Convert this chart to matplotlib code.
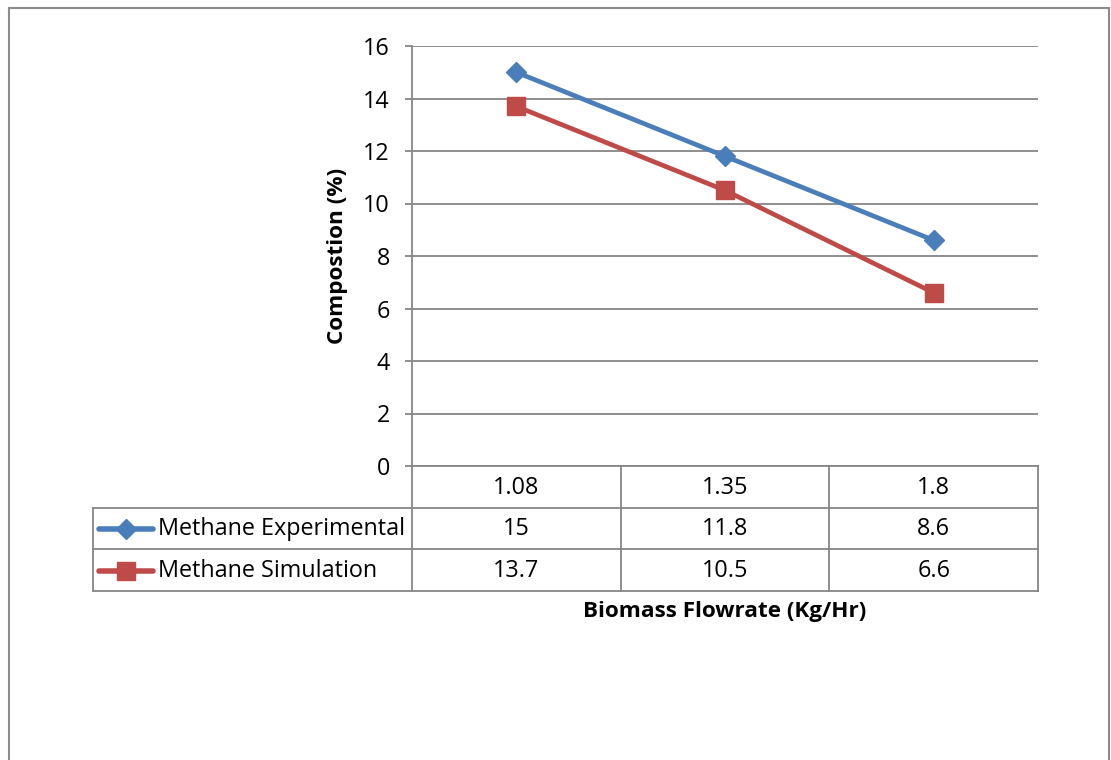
import matplotlib.pyplot as plt
from matplotlib.lines import Line2D

plt.rcParams['font.family'] = ['Open Sans', 'DejaVu Sans']

# data
flowrate = ['1.08', '1.35', '1.8']
experimental = [15, 11.8, 8.6]
simulation = [13.7, 10.5, 6.6]
series_names = ['Methane Experimental', 'Methane Simulation']
yticks = [0, 2, 4, 6, 8, 10, 12, 14, 16]

blue = '#4A7EBB'
red = '#BE4B48'
gridc = '#868686'
fs = 16.8
fsb = 16.2

fig = plt.figure(figsize=(11.11, 7.60), dpi=100)
ax = fig.add_axes([412/1111, 1 - 466/760, 626/1111, 420/760])

x = list(range(len(flowrate)))
ax.plot(x, experimental, color=blue, lw=3.4, marker='D', ms=10,
        mec=blue, mfc=blue, zorder=3)
ax.plot(x, simulation, color=red, lw=3.4, marker='s', ms=13,
        mec=red, mfc=red, zorder=3)

ax.set_xlim(-0.5, 2.5)
ax.set_ylim(0, 16)
ax.set_yticks(yticks)
ax.set_xticks([])
ax.yaxis.grid(True, color=gridc, lw=1.3)
ax.set_axisbelow(True)
for s in ['top', 'right']:
    ax.spines[s].set_visible(False)
ax.spines['left'].set_color(gridc)
ax.spines['left'].set_linewidth(1.3)
ax.spines['bottom'].set_color(gridc)
ax.spines['bottom'].set_linewidth(1.3)
ax.tick_params(axis='y', direction='out', length=5, width=1.3, color=gridc,
               pad=11, labelsize=fs)

ax.set_ylabel('Compostion (%)', fontsize=fsb, fontweight='bold', labelpad=11)

# data table under the axis
rh = 1.59          # row height in data units
xl = -2.03         # left edge of legend column
gl = dict(color=gridc, lw=1.3, clip_on=False)
for k in range(1, 4):
    ax.plot([xl, 2.5], [-k*rh, -k*rh], **gl)
ax.plot([xl, xl], [-rh, -3*rh], **gl)
for xv in [-0.5, 0.5, 1.5, 2.5]:
    ax.plot([xv, xv], [0, -3*rh], **gl)

for i, lab in enumerate(flowrate):
    ax.text(i, -0.52*rh, lab, ha='center', va='center', fontsize=fs)

rows = [experimental, simulation]
styles = [(blue, 'D', 10), (red, 's', 13)]
for r, (vals, name, (c, m, ms)) in enumerate(zip(rows, series_names, styles)):
    yc = -(r + 1.52) * rh
    for i, v in enumerate(vals):
        ax.text(i, yc, str(v), ha='center', va='center', fontsize=fs)
    ax.plot([xl + 0.03, xl + 0.29], [yc, yc], color=c, lw=4, clip_on=False,
            solid_capstyle='round')
    ax.plot([xl + 0.16], [yc], marker=m, ms=ms, color=c, clip_on=False)
    ax.text(xl + 0.315, yc, name, ha='left', va='center', fontsize=fs)

ax.text(1, -5.56, 'Biomass Flowrate (Kg/Hr)', ha='center', va='center',
        fontsize=fsb, fontweight='bold')

# outer chart border (bottom edge is cut off)
bc = '#8C8C8C'
fig.add_artist(Line2D([8.5/1111, 8.5/1111], [0, 1 - 7.5/760], color=bc, lw=1.5))
fig.add_artist(Line2D([8.5/1111, 1108.5/1111], [1 - 7.5/760, 1 - 7.5/760], color=bc, lw=1.5))
fig.add_artist(Line2D([1108.5/1111, 1108.5/1111], [0, 1 - 7.5/760], color=bc, lw=1.5))

fig.savefig('out.png', dpi=100)
